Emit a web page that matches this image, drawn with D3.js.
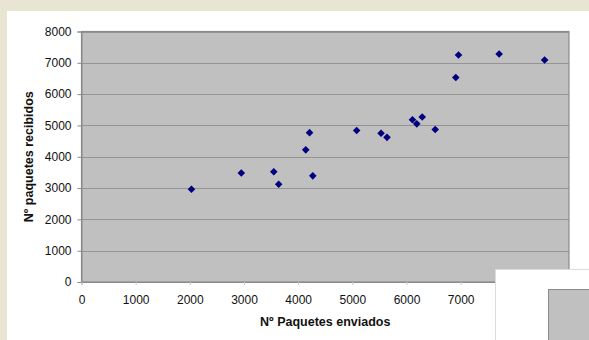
<!DOCTYPE html>
<html>
<head>
<meta charset="utf-8">
<script src="https://cdn.jsdelivr.net/npm/d3@7/dist/d3.min.js"></script>
<style>
  html, body { margin: 0; padding: 0; background: #e8e6d3; }
  svg { display: block; }
  text { font-family: "Liberation Sans", Arial, sans-serif; fill: #111; }
</style>
</head>
<body>
<svg id="chart" width="589" height="340"></svg>
<script>
// Packets sent vs. packets received
const sent     = [2030, 2950, 3550, 3640, 4140, 4210, 4270, 5080, 5530, 5640, 6110, 6190, 6290, 6530, 6910, 6960, 7710, 8550];
const received = [2960, 3480, 3520, 3120, 4220, 4770, 3390, 4840, 4750, 4620, 5180, 5050, 5270, 4870, 6530, 7250, 7280, 7090];
const xTicks = [0, 1000, 2000, 3000, 4000, 5000, 6000, 7000, 8000, 9000];
const yTicks = [0, 1000, 2000, 3000, 4000, 5000, 6000, 7000, 8000];
const xTitle = "Nº Paquetes enviados";
const yTitle = "Nº paquetes recibidos";

const svg = d3.select("#chart");
const W = 589, H = 340;

// page background tone and white chart sheet
svg.append("rect").attr("x", 0).attr("y", 0).attr("width", W).attr("height", H).attr("fill", "#e8e6d3");
svg.append("rect").attr("x", 7).attr("y", 11).attr("width", W - 7).attr("height", H - 11).attr("fill", "#ffffff");

const plot = { left: 81.5, right: 569, top: 31.5, bottom: 282 };
const x = d3.scaleLinear().domain([0, 9000]).range([plot.left, plot.right]);
const y = d3.scaleLinear().domain([0, 8000]).range([plot.bottom, plot.top]);

// plot area
svg.append("rect")
  .attr("x", plot.left).attr("y", plot.top)
  .attr("width", plot.right - plot.left).attr("height", plot.bottom - plot.top)
  .attr("fill", "#c0c0c0");

// horizontal gridlines
svg.append("g").selectAll("line").data(yTicks.slice(1)).join("line")
  .attr("x1", plot.left).attr("x2", plot.right)
  .attr("y1", d => Math.round(y(d)) + 0.5).attr("y2", d => Math.round(y(d)) + 0.5)
  .attr("stroke", "#949494").attr("stroke-width", 1.2);

// plot border
svg.append("rect")
  .attr("x", plot.left).attr("y", plot.top)
  .attr("width", plot.right - plot.left).attr("height", plot.bottom - plot.top)
  .attr("fill", "none").attr("stroke", "#8a8a8a").attr("stroke-width", 1.2);

// y axis
const yAxis = svg.append("g")
  .attr("transform", `translate(${plot.left},0)`)
  .call(d3.axisLeft(y).tickValues(yTicks).tickSize(4).tickPadding(6).tickFormat(d3.format("d")));
yAxis.select(".domain").attr("stroke", "#8a8a8a");
yAxis.selectAll(".tick line").attr("stroke", "#8a8a8a");
yAxis.selectAll("text").attr("font-size", 12).attr("fill", "#111")
  .attr("font-family", "'Liberation Sans', Arial, sans-serif");

// x axis
const xAxis = svg.append("g")
  .attr("transform", `translate(0,${plot.bottom})`)
  .call(d3.axisBottom(x).tickValues(xTicks).tickSize(3).tickPadding(10).tickFormat(d3.format("d")));
xAxis.select(".domain").attr("stroke", "#8a8a8a");
xAxis.selectAll(".tick line").attr("stroke", "#c8c8c8");
xAxis.selectAll("text").attr("font-size", 12).attr("fill", "#111")
  .attr("font-family", "'Liberation Sans', Arial, sans-serif");

// axis titles
svg.append("text")
  .attr("x", (plot.left + plot.right) / 2).attr("y", 326)
  .attr("text-anchor", "middle").attr("font-size", 12.5).attr("font-weight", "bold")
  .text(xTitle);
svg.append("text")
  .attr("transform", `translate(33,${(plot.top + plot.bottom) / 2}) rotate(-90)`)
  .attr("text-anchor", "middle").attr("font-size", 12.5).attr("font-weight", "bold")
  .text(yTitle);

// diamond markers
const r = 3.8;
const diamond = `M0,${-r}L${r},0L0,${r}L${-r},0Z`;
svg.append("g").selectAll("path").data(sent.map((s, i) => [s, received[i]])).join("path")
  .attr("d", diamond)
  .attr("transform", d => `translate(${x(d[0])},${y(d[1])})`)
  .attr("fill", "#000080");

// legend panel overlapping the lower-right corner
svg.append("rect")
  .attr("x", 495.5).attr("y", 269.5).attr("width", 100).attr("height", 80)
  .attr("fill", "#ffffff").attr("stroke", "#dcdcdc").attr("stroke-width", 1);
svg.append("rect")
  .attr("x", 548.5).attr("y", 289.5).attr("width", 60).attr("height", 60)
  .attr("fill", "#c0c0c0").attr("stroke", "#8a8a8a").attr("stroke-width", 1);
</script>
</body>
</html>
